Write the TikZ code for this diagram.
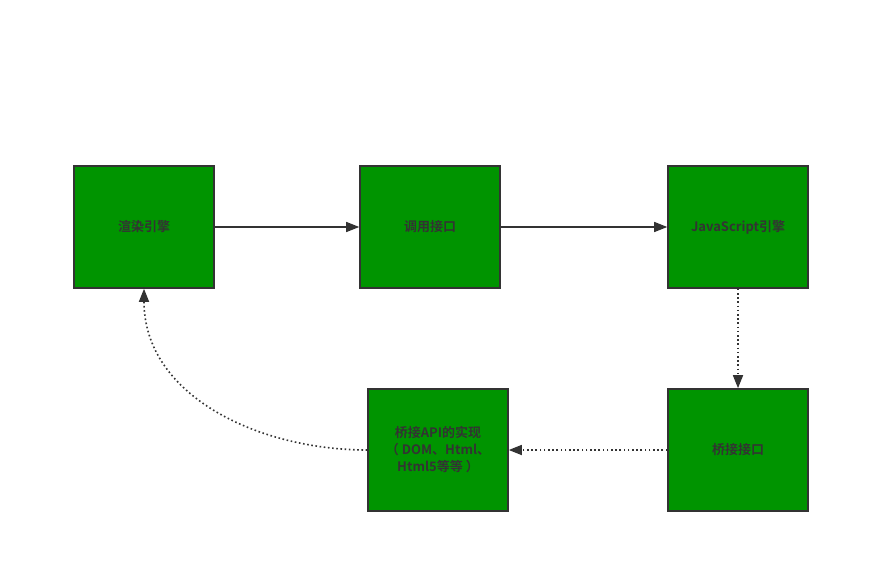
\documentclass[tikz,border=0pt]{standalone}
\usepackage{fontspec}
\usepackage{xcolor}
\usetikzlibrary{arrows.meta,positioning}
\setmainfont{Noto Sans CJK SC Bold}
\definecolor{boxfill}{HTML}{009400}
\definecolor{ink}{HTML}{333333}
\tikzset{
  stage/.style={rectangle, draw=ink, line width=1.6pt, fill=boxfill,
    minimum width=140pt, minimum height=122pt, inner sep=2pt,
    text=ink, font=\fontsize{13}{17}\selectfont, align=center},
  flow/.style={-{Triangle[length=13pt,width=10pt]}, line width=1.3pt, draw=ink},
  hook/.style={flow, line width=1.6pt, dash pattern=on 1.6pt off 2.6pt}
}
\begin{document}
\begin{tikzpicture}[x=1pt,y=-1pt]
  \useasboundingbox (0,0) rectangle (870,572);
  \node[stage] (render) at (144,227) {渲染引擎};
  \node[stage] (call) at (430,227) {调用接口};
  \node[stage] (js) at (738,227) {JavaScript引擎};
  \node[stage] (bridge) at (738,450) {桥接接口};
  \node[stage] (impl) at (438,450) {桥接API的实现\\（ DOM、Html、\\Html5等等 ）};
  \draw[flow] (render) -- (call);
  \draw[flow] (call) -- (js);
  \draw[hook] (js) -- (bridge);
  \draw[hook] (bridge) -- (impl);
  \draw[hook] (impl.west) to[out=180,in=-90] (render.south);
\end{tikzpicture}
\end{document}
